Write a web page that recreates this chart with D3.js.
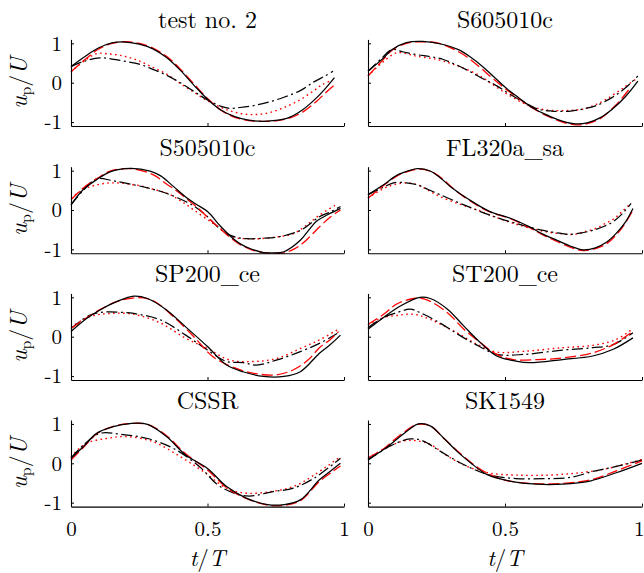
<!DOCTYPE html>
<html>
<head>
<meta charset="utf-8">
<script src="https://cdn.jsdelivr.net/npm/d3@7"></script>
<style>
html,body{margin:0;padding:0;background:#fff;}
svg{display:block;}
</style>
</head>
<body>
<svg id="chart" width="644" height="573"></svg>
<script>
// ---------------- data ----------------
const titles = ["test no. 2", "S605010c", "S505010c", "FL320a_sa", "SP200_ce", "ST200_ce", "CSSR", "SK1549"];
const xTicks = [0, 0.5, 1];
const xTickLabels = ["0", "0.5", "1"];
const yTicks = [-1, 0, 1];
const yTickLabels = ["-1", "0", "1"];

// each series: [t/T, up/U]
const p1Solid = [[0,0.41],[0.05,0.66],[0.10,0.88],[0.15,1.01],[0.19,1.04],[0.25,0.98],[0.30,0.86],[0.35,0.64],[0.40,0.32],[0.45,-0.06],[0.50,-0.42],[0.55,-0.70],[0.60,-0.86],[0.65,-0.95],[0.70,-0.98],[0.75,-0.96],[0.80,-0.88],[0.85,-0.68],[0.90,-0.38],[0.935,-0.12],[0.965,0.13]];
const p1Dashed = [[0,0.28],[0.05,0.58],[0.10,0.85],[0.15,1.0],[0.20,1.04],[0.25,1.0],[0.30,0.88],[0.35,0.67],[0.40,0.35],[0.45,-0.03],[0.50,-0.40],[0.55,-0.70],[0.60,-0.88],[0.65,-0.96],[0.70,-0.98],[0.75,-0.97],[0.80,-0.90],[0.85,-0.74],[0.90,-0.47],[0.935,-0.24],[0.965,-0.06]];
const p1DashDot = [[0,0.41],[0.05,0.55],[0.106,0.63],[0.15,0.60],[0.20,0.54],[0.25,0.47],[0.30,0.34],[0.35,0.19],[0.40,0.0],[0.45,-0.22],[0.50,-0.44],[0.55,-0.60],[0.58,-0.65],[0.62,-0.63],[0.67,-0.58],[0.72,-0.50],[0.78,-0.37],[0.84,-0.20],[0.89,0.02],[0.93,0.17],[0.96,0.29]];
const p1Dotted = [[0,0.28],[0.05,0.56],[0.094,0.74],[0.14,0.73],[0.19,0.68],[0.24,0.58],[0.29,0.42],[0.35,0.22],[0.40,-0.02],[0.45,-0.24],[0.50,-0.46],[0.55,-0.63],[0.60,-0.75],[0.66,-0.81],[0.72,-0.77],[0.78,-0.63],[0.84,-0.43],[0.89,-0.20],[0.92,-0.05],[0.955,0.06]];

const p2Solid = [[0,0.29],[0.057,0.63],[0.087,0.84],[0.14,1.02],[0.20,1.05],[0.275,0.97],[0.33,0.84],[0.37,0.67],[0.42,0.40],[0.47,0.08],[0.51,-0.17],[0.55,-0.38],[0.59,-0.59],[0.64,-0.78],[0.69,-0.93],[0.75,-1.04],[0.80,-1.02],[0.85,-0.88],[0.89,-0.68],[0.94,-0.35],[0.985,0.04]];
const p2Dashed = [[0,0.17],[0.057,0.60],[0.087,0.82],[0.14,1.0],[0.20,1.04],[0.26,1.0],[0.31,0.86],[0.36,0.66],[0.41,0.38],[0.46,0.08],[0.51,-0.20],[0.56,-0.45],[0.60,-0.64],[0.65,-0.83],[0.71,-1.0],[0.76,-1.07],[0.80,-1.04],[0.85,-0.90],[0.90,-0.60],[0.93,-0.37],[0.955,-0.15]];
const p2DashDot = [[0,0.29],[0.05,0.62],[0.087,0.84],[0.13,0.78],[0.18,0.71],[0.23,0.66],[0.275,0.59],[0.32,0.46],[0.37,0.29],[0.42,0.10],[0.47,-0.08],[0.52,-0.30],[0.57,-0.50],[0.62,-0.67],[0.67,-0.72],[0.74,-0.72],[0.79,-0.66],[0.83,-0.59],[0.89,-0.38],[0.94,-0.13],[0.985,0.17]];
const p2Dotted = [[0,0.17],[0.05,0.50],[0.105,0.76],[0.15,0.72],[0.18,0.67],[0.23,0.62],[0.275,0.55],[0.33,0.42],[0.40,0.21],[0.45,-0.02],[0.49,-0.21],[0.54,-0.42],[0.59,-0.59],[0.64,-0.68],[0.69,-0.71],[0.74,-0.70],[0.785,-0.67],[0.83,-0.56],[0.87,-0.42],[0.93,-0.14],[0.98,0.10]];

const p3Solid = [[0,0.13],[0.045,0.52],[0.094,0.77],[0.143,0.97],[0.216,1.06],[0.29,0.99],[0.33,0.86],[0.375,0.60],[0.42,0.33],[0.46,0.14],[0.50,-0.04],[0.546,-0.40],[0.58,-0.64],[0.62,-0.86],[0.66,-0.99],[0.705,-1.08],[0.74,-1.09],[0.78,-1.06],[0.84,-0.77],[0.87,-0.52],[0.90,-0.28],[0.94,-0.12],[0.987,0.04]];
const p3Dashed = [[0,0.26],[0.045,0.56],[0.10,0.82],[0.143,0.99],[0.216,1.05],[0.30,0.90],[0.35,0.66],[0.39,0.47],[0.43,0.25],[0.47,0.02],[0.51,-0.25],[0.546,-0.47],[0.58,-0.68],[0.62,-0.88],[0.67,-1.03],[0.72,-1.09],[0.78,-1.09],[0.82,-0.98],[0.85,-0.84],[0.91,-0.43],[0.95,-0.18],[0.987,0.0]];
const p3DashDot = [[0,0.13],[0.045,0.50],[0.094,0.79],[0.155,0.74],[0.23,0.64],[0.28,0.56],[0.33,0.47],[0.39,0.31],[0.45,0.10],[0.50,-0.17],[0.53,-0.38],[0.57,-0.60],[0.61,-0.70],[0.645,-0.73],[0.70,-0.72],[0.77,-0.67],[0.84,-0.52],[0.88,-0.33],[0.91,-0.17],[0.95,-0.05],[0.987,0.09]];
const p3Dotted = [[0,0.30],[0.045,0.52],[0.094,0.64],[0.155,0.69],[0.25,0.62],[0.30,0.53],[0.35,0.43],[0.40,0.24],[0.45,0.0],[0.52,-0.34],[0.56,-0.53],[0.595,-0.69],[0.64,-0.73],[0.69,-0.73],[0.76,-0.68],[0.815,-0.60],[0.86,-0.40],[0.91,-0.13],[0.975,0.15]];

const p4Solid = [[0,0.39],[0.057,0.64],[0.105,0.88],[0.15,1.0],[0.18,1.05],[0.227,0.99],[0.26,0.84],[0.30,0.60],[0.37,0.26],[0.445,-0.04],[0.52,-0.21],[0.59,-0.43],[0.64,-0.62],[0.69,-0.77],[0.74,-0.92],[0.785,-1.01],[0.83,-0.96],[0.87,-0.82],[0.905,-0.60],[0.94,-0.30],[0.967,0.04]];
const p4Dashed = [[0,0.30],[0.057,0.62],[0.105,0.86],[0.15,0.99],[0.19,1.04],[0.23,0.98],[0.27,0.80],[0.31,0.55],[0.37,0.24],[0.445,-0.05],[0.52,-0.22],[0.59,-0.45],[0.64,-0.64],[0.69,-0.80],[0.74,-0.95],[0.785,-1.03],[0.83,-0.98],[0.87,-0.86],[0.91,-0.60],[0.94,-0.32],[0.967,0.0]];
const p4DashDot = [[0,0.39],[0.057,0.58],[0.093,0.69],[0.14,0.69],[0.18,0.64],[0.22,0.52],[0.263,0.39],[0.35,0.13],[0.445,-0.13],[0.54,-0.34],[0.64,-0.52],[0.70,-0.59],[0.737,-0.62],[0.78,-0.58],[0.82,-0.52],[0.86,-0.42],[0.894,-0.30],[0.93,-0.08],[0.96,0.17]];
const p4Dotted = [[0,0.30],[0.05,0.52],[0.093,0.64],[0.14,0.69],[0.18,0.64],[0.22,0.50],[0.263,0.34],[0.33,0.16],[0.40,0.0],[0.445,-0.13],[0.54,-0.36],[0.64,-0.54],[0.70,-0.60],[0.75,-0.62],[0.79,-0.55],[0.83,-0.47],[0.87,-0.33],[0.90,-0.21],[0.93,-0.02],[0.96,0.17]];

const p5Solid = [[0,0.13],[0.057,0.46],[0.106,0.68],[0.167,0.89],[0.23,1.03],[0.28,0.97],[0.35,0.68],[0.42,0.25],[0.50,-0.25],[0.57,-0.72],[0.63,-0.89],[0.705,-1.01],[0.78,-1.01],[0.84,-0.89],[0.91,-0.42],[0.95,-0.20],[0.987,0.04]];
const p5Dashed = [[0,0.21],[0.057,0.48],[0.11,0.70],[0.167,0.89],[0.24,0.99],[0.30,0.92],[0.375,0.51],[0.45,0.0],[0.52,-0.51],[0.595,-0.78],[0.67,-0.93],[0.75,-0.97],[0.815,-0.84],[0.87,-0.58],[0.91,-0.28],[0.95,-0.07],[0.98,0.13]];
const p5DashDot = [[0,0.21],[0.07,0.55],[0.13,0.63],[0.18,0.62],[0.23,0.59],[0.33,0.42],[0.42,0.04],[0.50,-0.34],[0.57,-0.63],[0.63,-0.66],[0.68,-0.72],[0.755,-0.59],[0.84,-0.38],[0.91,-0.17],[0.975,0.08]];
const p5Dotted = [[0,0.25],[0.07,0.51],[0.143,0.59],[0.23,0.57],[0.33,0.34],[0.42,-0.04],[0.50,-0.30],[0.58,-0.59],[0.67,-0.63],[0.755,-0.55],[0.84,-0.30],[0.91,-0.08],[0.975,0.17]];

const p6Solid = [[0,0.19],[0.057,0.49],[0.118,0.78],[0.19,1.0],[0.227,0.97],[0.29,0.70],[0.35,0.27],[0.41,-0.15],[0.47,-0.49],[0.54,-0.62],[0.59,-0.66],[0.71,-0.58],[0.82,-0.49],[0.895,-0.32],[0.967,-0.03]];
const p6Dashed = [[0,0.31],[0.057,0.57],[0.105,0.83],[0.166,0.97],[0.21,0.95],[0.29,0.61],[0.35,0.19],[0.41,-0.15],[0.47,-0.45],[0.53,-0.58],[0.62,-0.58],[0.71,-0.54],[0.82,-0.41],[0.895,-0.20],[0.96,0.10]];
const p6DashDot = [[0,0.23],[0.057,0.49],[0.105,0.61],[0.154,0.70],[0.19,0.61],[0.25,0.40],[0.35,-0.03],[0.41,-0.26],[0.47,-0.45],[0.57,-0.45],[0.71,-0.34],[0.82,-0.28],[0.895,-0.20],[0.967,0.10]];
const p6Dotted = [[0,0.31],[0.057,0.49],[0.105,0.54],[0.166,0.57],[0.227,0.44],[0.324,0.10],[0.40,-0.20],[0.47,-0.39],[0.57,-0.37],[0.71,-0.28],[0.82,-0.22],[0.906,-0.07],[0.96,0.17]];

const p7Solid = [[0,0.13],[0.045,0.42],[0.094,0.76],[0.155,0.93],[0.216,1.01],[0.28,0.99],[0.35,0.68],[0.42,0.21],[0.50,-0.13],[0.57,-0.59],[0.644,-0.89],[0.72,-1.05],[0.78,-1.05],[0.84,-0.93],[0.91,-0.42],[0.95,-0.20],[0.987,0.0]];
const p7Dashed = [[0,0.08],[0.045,0.40],[0.094,0.75],[0.155,0.94],[0.22,1.01],[0.28,0.99],[0.35,0.70],[0.42,0.24],[0.50,-0.17],[0.57,-0.62],[0.644,-0.90],[0.72,-1.06],[0.78,-1.07],[0.84,-0.95],[0.91,-0.46],[0.95,-0.25],[0.987,-0.07]];
const p7DashDot = [[0,0.13],[0.045,0.46],[0.106,0.76],[0.18,0.74],[0.28,0.63],[0.375,0.38],[0.47,-0.08],[0.546,-0.59],[0.644,-0.83],[0.74,-0.72],[0.815,-0.63],[0.89,-0.38],[0.987,0.13]];
const p7Dotted = [[0,0.17],[0.057,0.51],[0.13,0.63],[0.20,0.68],[0.30,0.55],[0.40,0.17],[0.485,-0.21],[0.57,-0.63],[0.644,-0.76],[0.73,-0.72],[0.815,-0.59],[0.89,-0.30],[0.987,0.17]];

const p8Solid = [[0,0.10],[0.057,0.35],[0.105,0.61],[0.154,0.88],[0.184,1.0],[0.227,0.95],[0.275,0.65],[0.324,0.31],[0.373,0.02],[0.433,-0.28],[0.518,-0.45],[0.615,-0.53],[0.71,-0.53],[0.81,-0.45],[0.906,-0.24],[1.0,0.0]];
const p8Dashed = [[0,0.14],[0.057,0.37],[0.105,0.65],[0.154,0.90],[0.18,0.99],[0.227,0.95],[0.28,0.61],[0.34,0.23],[0.41,-0.15],[0.49,-0.41],[0.59,-0.51],[0.71,-0.51],[0.82,-0.41],[0.906,-0.19],[1.0,0.06]];
const p8DashDot = [[0,0.08],[0.081,0.44],[0.154,0.62],[0.2,0.57],[0.263,0.31],[0.324,0.06],[0.385,-0.15],[0.445,-0.30],[0.54,-0.39],[0.64,-0.39],[0.737,-0.36],[0.83,-0.19],[0.906,-0.08],[1.0,0.08]];
const p8Dotted = [[0,0.14],[0.081,0.44],[0.13,0.57],[0.18,0.57],[0.227,0.48],[0.30,0.14],[0.373,-0.11],[0.445,-0.25],[0.54,-0.30],[0.66,-0.30],[0.773,-0.24],[0.87,-0.14],[1.0,0.10]];

const solidSeries   = [p1Solid, p2Solid, p3Solid, p4Solid, p5Solid, p6Solid, p7Solid, p8Solid];
const dashedSeries  = [p1Dashed, p2Dashed, p3Dashed, p4Dashed, p5Dashed, p6Dashed, p7Dashed, p8Dashed];
const dashDotSeries = [p1DashDot, p2DashDot, p3DashDot, p4DashDot, p5DashDot, p6DashDot, p7DashDot, p8DashDot];
const dottedSeries  = [p1Dotted, p2Dotted, p3Dotted, p4Dotted, p5Dotted, p6Dotted, p7Dotted, p8Dotted];

// ---------------- layout ----------------
const colRange = [[71, 344], [368, 642]];
const rowZero = [82.7, 210, 336.7, 463.3];
const halfH = 43.3;
const FONT = "Latin Modern Roman";

const svg = d3.select("#chart");

const styles = [
  {data: dottedSeries,  color: "#ff0000", dash: "1.6,3.4", w: 1.4},
  {data: dashDotSeries, color: "#000000", dash: "11,3.5,2,3.5", w: 1.25},
  {data: dashedSeries,  color: "#ff0000", dash: "11,4", w: 1.3},
  {data: solidSeries,   color: "#000000", dash: null, w: 1.25}
];

function font(sel, size) {
  return sel.attr("font-family", FONT).style("font-family", FONT).style("font-size", size + "px");
}

titles.forEach((title, i) => {
  const col = i % 2, row = Math.floor(i / 2);
  const x = d3.scaleLinear().domain([0, 1]).range(colRange[col]);
  const y = d3.scaleLinear().domain([-1.1, 1.1]).range([rowZero[row] + halfH, rowZero[row] - halfH]);
  const g = svg.append("g");

  const line = d3.line().x(d => x(d[0])).y(d => y(d[1])).curve(d3.curveCatmullRom.alpha(0.5));

  styles.forEach(s => {
    g.append("path")
      .attr("d", line(s.data[i]))
      .attr("fill", "none")
      .attr("stroke", s.color)
      .attr("stroke-width", s.w)
      .attr("stroke-dasharray", s.dash);
  });

  // axes
  const yAxis = d3.axisLeft(y).tickValues(yTicks).tickSizeInner(-3).tickSizeOuter(0).tickPadding(9)
    .tickFormat((d, k) => col === 0 ? yTickLabels[k] : "");
  const ya = g.append("g").attr("transform", `translate(${colRange[col][0]},0)`).call(yAxis);

  const xAxis = d3.axisBottom(x).tickValues(xTicks).tickSizeInner(-3).tickSizeOuter(0).tickPadding(14)
    .tickFormat((d, k) => row === 3 ? xTickLabels[k] : "");
  const xa = g.append("g").attr("transform", `translate(0,${rowZero[row] + halfH})`).call(xAxis);

  [ya, xa].forEach(a => {
    a.attr("font-family", FONT);
    a.selectAll("path.domain").attr("stroke", "#000").attr("stroke-width", 1.1);
    a.selectAll(".tick line").attr("stroke", "#000").attr("stroke-width", 1);
    font(a.selectAll(".tick text").attr("fill", "#000"), 21);
  });
  // keep the last x tick label of the right column inside the picture
  if (row === 3 && col === 1) {
    xa.selectAll(".tick text").filter(d => d === 1).attr("text-anchor", "end").attr("x", 2);
  }

  // title
  font(g.append("text"), 24)
    .attr("x", (colRange[col][0] + colRange[col][1]) / 2)
    .attr("y", rowZero[row] - 54.5)
    .attr("text-anchor", "middle")
    .text(title);

  // y label
  if (col === 0) {
    const yl = font(g.append("text"), 24)
      .attr("transform", `translate(27,${rowZero[row]}) rotate(-90)`)
      .attr("text-anchor", "middle");
    yl.append("tspan").style("font-style", "italic").text("u");
    yl.append("tspan").style("font-size", "16px").attr("dy", 4).text("p");
    yl.append("tspan").attr("dy", -4).text("/");
    yl.append("tspan").style("font-style", "italic").text("U");
  }

  // x label
  if (row === 3) {
    const xl = font(g.append("text"), 23)
      .attr("x", (colRange[col][0] + colRange[col][1]) / 2)
      .attr("y", 565.5)
      .attr("text-anchor", "middle");
    xl.append("tspan").style("font-style", "italic").text("t");
    xl.append("tspan").text("/");
    xl.append("tspan").style("font-style", "italic").text("T");
  }
});
</script>
</body>
</html>
